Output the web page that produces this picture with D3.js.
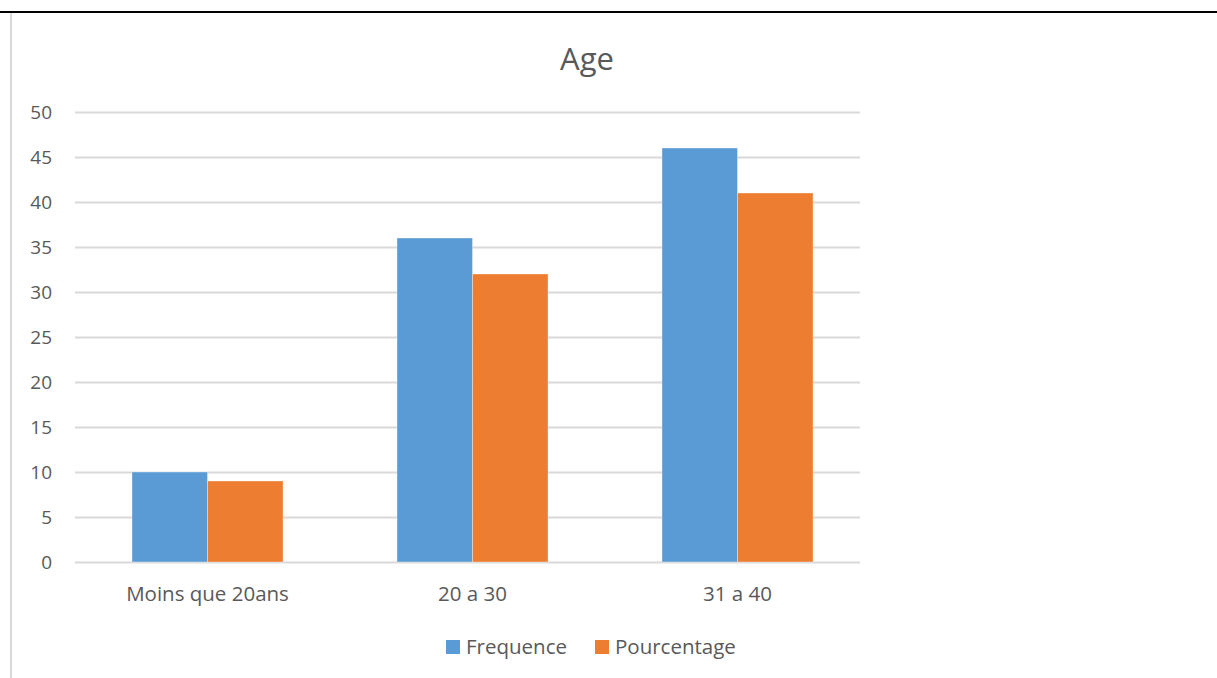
<!DOCTYPE html>
<html>
<head>
<meta charset="utf-8">
<script src="https://cdn.jsdelivr.net/npm/d3@7.9.0/dist/d3.min.js"></script>
<style>
  body { margin: 0; background: #fff; }
  text { font-family: "Open Sans", "Noto Sans", sans-serif; fill: #595959; }
</style>
</head>
<body>
<svg id="chart" width="1217" height="678"></svg>
<script>
// chart data
const categories = ['Moins que 20ans', '20 a 30', '31 a 40'];
const seriesNames = ['Frequence', 'Pourcentage'];
const frequence = [10, 36, 46];
const pourcentage = [9, 32, 41];
const yTicks = [0, 5, 10, 15, 20, 25, 30, 35, 40, 45, 50];

const colors = ['#5b9bd5', '#ed7d31'];
const svg = d3.select('#chart');

// page frame lines
svg.append('rect').attr('x', 0).attr('y', 11).attr('width', 1217).attr('height', 2).attr('fill', '#000');
svg.append('rect').attr('x', 10).attr('y', 13).attr('width', 2).attr('height', 665).attr('fill', '#d9d9d9');

const margin = {left: 75, top: 112};
const width = 785;   // gridline length
const height = 450;

const g = svg.append('g').attr('transform', `translate(${margin.left},${margin.top})`);

const x = d3.scaleBand().domain(categories).range([0, 795]).paddingInner(0.43).paddingOuter(0.215);
const xs = d3.scaleBand().domain(seriesNames).range([0, x.bandwidth()]);
const y = d3.scaleLinear().domain([0, 50]).range([height, 0]);

// gridlines
g.selectAll('.grid').data(yTicks).join('line')
  .attr('x1', 0).attr('x2', width)
  .attr('y1', d => y(d) + 0.5).attr('y2', d => y(d) + 0.5)
  .attr('stroke', '#d9d9d9').attr('stroke-width', 2);

// y labels
g.selectAll('.ylab').data(yTicks).join('text')
  .attr('x', -23).attr('y', d => y(d)).attr('dy', '0.36em')
  .attr('text-anchor', 'end').attr('font-size', 19)
  .text(d => d);

// bars
const rows = categories.map((c, i) => ({cat: c, vals: [frequence[i], pourcentage[i]]}));
const grp = g.selectAll('.grp').data(rows).join('g')
  .attr('transform', d => `translate(${x(d.cat)},0)`);
grp.selectAll('rect').data(d => d.vals.map((v, j) => ({s: seriesNames[j], v, j}))).join('rect')
  .attr('x', d => xs(d.s)).attr('width', xs.bandwidth())
  .attr('y', d => y(d.v)).attr('height', d => y(0) - y(d.v))
  .attr('fill', d => colors[d.j])
  .attr('stroke', '#fff').attr('stroke-opacity', 0.35).attr('stroke-width', 1);

// x labels
g.selectAll('.xlab').data(categories).join('text')
  .attr('x', d => x(d) + x.bandwidth() / 2).attr('y', height + 39)
  .attr('text-anchor', 'middle').attr('font-size', 20.5)
  .text(d => d);

// title
svg.append('text').attr('x', 587).attr('y', 70)
  .attr('text-anchor', 'middle').attr('font-size', 31).text('Age');

// legend
const legX = [446, 595];
const leg = svg.selectAll('.leg').data(seriesNames).join('g')
  .attr('transform', (d, i) => `translate(${legX[i]},640)`);
leg.append('rect').attr('width', 14).attr('height', 14).attr('fill', (d, i) => colors[i]);
leg.append('text').attr('x', 20).attr('y', 14).attr('font-size', 20.5).text(d => d);
</script>
</body>
</html>
